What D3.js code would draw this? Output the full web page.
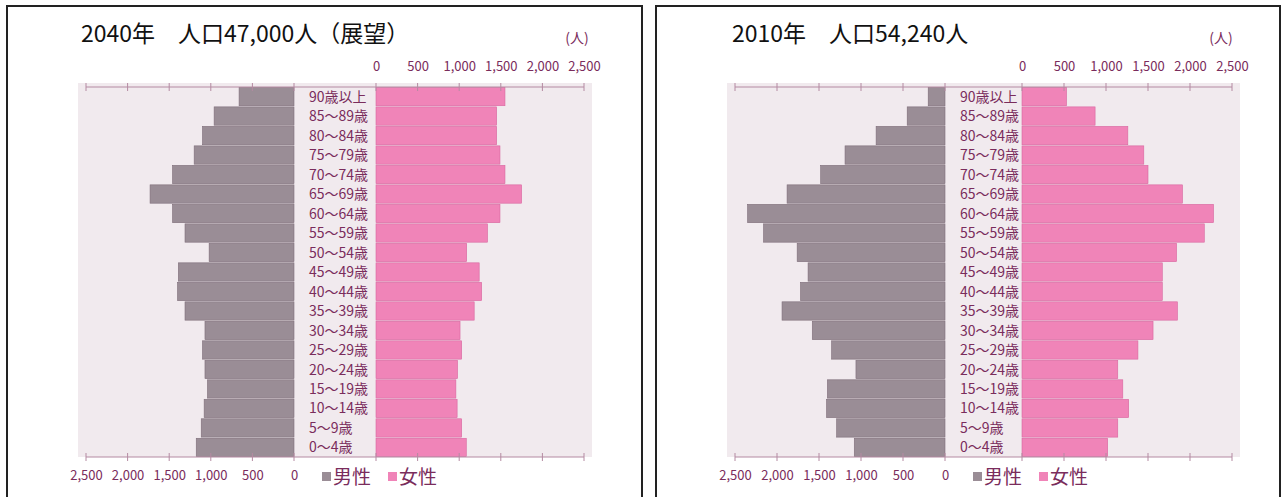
<!DOCTYPE html>
<html>
<head>
<meta charset="utf-8">
<script src="https://cdn.jsdelivr.net/npm/d3@7"></script>
<style>
  body { margin: 0; background: #fff; }
  svg { display: block; }
</style>
</head>
<body>
<div id="chart"></div>
<script>
// Data (youngest first)
var ages = ['0～4歳', '5～9歳', '10～14歳', '15～19歳', '20～24歳', '25～29歳', '30～34歳',
    '35～39歳', '40～44歳', '45～49歳', '50～54歳', '55～59歳', '60～64歳', '65～69歳',
    '70～74歳', '75～79歳', '80～84歳', '85～89歳', '90歳以上'];

var male2040   = [1175, 1115, 1080, 1040, 1070, 1100, 1070, 1310, 1400, 1390, 1020, 1310, 1460, 1730, 1460, 1200, 1100, 960, 660];
var female2040 = [1085, 1030, 975, 960, 980, 1030, 1010, 1180, 1270, 1240, 1090, 1340, 1490, 1750, 1550, 1490, 1450, 1450, 1550];
var male2010   = [1080, 1290, 1410, 1400, 1060, 1350, 1580, 1940, 1720, 1630, 1760, 2160, 2350, 1880, 1480, 1190, 820, 450, 200];
var female2010 = [1020, 1140, 1270, 1200, 1140, 1380, 1560, 1850, 1670, 1670, 1840, 2170, 2280, 1910, 1500, 1450, 1260, 870, 530];

var tickValues = [0, 500, 1000, 1500, 2000, 2500];
var titles = ['2040年　人口47,000人（展望）', '2010年　人口54,240人'];
var unitLabel = '(人)';
var legendLabels = ['男性', '女性'];

// Base space
var width = 1288, height = 497;
var chart = d3.select('#chart').append('svg')
    .attr('width', width)
    .attr('height', height);

var maleColor = '#9a8d96', maleEdge = '#7e6d79';
var femaleColor = '#f084b8', femaleEdge = '#d8669f';
var plum = '#7a2c5c';
var fontJP = "'Noto Sans CJK JP', 'Noto Sans', sans-serif";

var panels = [
    {bx: 7, bw: 635, titleX: 81, mz: 294, fz: 376, span: 208, unitX: 577, title: titles[0], male: male2040, female: female2040},
    {bx: 656, bw: 624, titleX: 732, mz: 945, fz: 1022, span: 210, unitX: 1221, title: titles[1], male: male2010, female: female2010}
];

var plotTop = 87, plotBottom = 457;
var fmt = d3.format(',');

panels.forEach(function(p) {
    var g = chart.append('g');

    // Frame
    g.append('rect')
        .attr('x', p.bx).attr('y', 6)
        .attr('width', p.bw).attr('height', 520)
        .attr('fill', 'none')
        .attr('stroke', '#222')
        .attr('stroke-width', 2);

    // Scales
    var xMale = d3.scaleLinear().domain([0, 2500]).range([p.mz, p.mz - p.span]);
    var xFemale = d3.scaleLinear().domain([0, 2500]).range([p.fz, p.fz + p.span]);
    var y = d3.scaleBand()
        .domain(ages.slice().reverse())
        .range([plotTop, plotBottom])
        .paddingInner(0.06)
        .paddingOuter(0.02);

    // Plot background
    g.append('rect')
        .attr('x', xMale(2500) - 8).attr('y', plotTop - 4)
        .attr('width', xFemale(2500) - xMale(2500) + 16)
        .attr('height', plotBottom - plotTop + 4)
        .attr('fill', '#f1eaee');

    // Title
    g.append('text')
        .text(p.title)
        .attr('x', p.titleX).attr('y', 42)
        .attr('font-family', fontJP)
        .attr('font-size', '23px')
        .attr('font-weight', 400)
        .attr('fill', '#111');

    g.append('text')
        .text(unitLabel)
        .attr('x', p.unitX).attr('y', 43)
        .attr('text-anchor', 'middle')
        .attr('font-family', fontJP)
        .attr('font-size', '14px')
        .attr('fill', plum);

    // Bars
    var rows = ages.map(function(a, i) { return {age: a, m: p.male[i], f: p.female[i]}; });

    g.selectAll('.mbar')
        .data(rows)
        .enter()
        .append('rect')
        .attr('class', 'mbar')
        .attr('x', function(d) { return xMale(d.m); })
        .attr('y', function(d) { return y(d.age); })
        .attr('width', function(d) { return xMale(0) - xMale(d.m); })
        .attr('height', y.bandwidth())
        .style('fill', maleColor)
        .style('stroke', maleEdge)
        .style('stroke-width', 0.6);

    g.selectAll('.fbar')
        .data(rows)
        .enter()
        .append('rect')
        .attr('class', 'fbar')
        .attr('x', xFemale(0))
        .attr('y', function(d) { return y(d.age); })
        .attr('width', function(d) { return xFemale(d.f) - xFemale(0); })
        .attr('height', y.bandwidth())
        .style('fill', femaleColor)
        .style('stroke', femaleEdge)
        .style('stroke-width', 0.6);

    // Age labels in the middle column
    g.selectAll('.age')
        .data(rows)
        .enter()
        .append('text')
        .attr('class', 'age')
        .text(function(d) { return d.age; })
        .attr('x', p.mz + 15)
        .attr('y', function(d) { return y(d.age) + y.bandwidth() / 2; })
        .attr('dy', '0.36em')
        .attr('font-family', fontJP)
        .attr('font-size', '14px')
        .attr('fill', plum);

    // Axis lines with ticks on both sides
    [plotTop, plotBottom].forEach(function(ay) {
        g.append('line')
            .attr('x1', xMale(2500)).attr('x2', xFemale(2500))
            .attr('y1', ay).attr('y2', ay)
            .attr('stroke', '#b48aa2').attr('stroke-width', 1);
        g.selectAll(null)
            .data(tickValues.map(xMale).concat(tickValues.map(xFemale)))
            .enter()
            .append('line')
            .attr('x1', function(d) { return d; }).attr('x2', function(d) { return d; })
            .attr('y1', ay - 4).attr('y2', ay + 4)
            .attr('stroke', '#b48aa2').attr('stroke-width', 1);
    });

    // Top labels (female), bottom labels (male)
    var topAxis = g.append('g')
        .attr('transform', 'translate(0,' + plotTop + ')')
        .call(d3.axisTop(xFemale).tickValues(tickValues).tickFormat(fmt).tickSize(0).tickPadding(16));
    var botAxis = g.append('g')
        .attr('transform', 'translate(0,' + plotBottom + ')')
        .call(d3.axisBottom(xMale).tickValues(tickValues).tickFormat(fmt).tickSize(0).tickPadding(14));
    [topAxis, botAxis].forEach(function(ax) {
        ax.select('.domain').remove();
        ax.selectAll('text')
            .attr('font-family', fontJP)
            .attr('font-size', '13px')
            .attr('fill', plum);
    });

    // Legend
    var legend = g.append('g');
    var lx = [p.mz + 28, p.mz + 94];
    [maleColor, femaleColor].forEach(function(c, i) {
        legend.append('rect')
            .attr('x', lx[i]).attr('y', 472)
            .attr('width', 9).attr('height', 9)
            .style('fill', c);
        legend.append('text')
            .text(legendLabels[i])
            .attr('x', lx[i] + 11).attr('y', 484)
            .attr('font-family', fontJP)
            .attr('font-size', '19px')
            .attr('fill', plum);
    });
});
</script>
</body>
</html>
